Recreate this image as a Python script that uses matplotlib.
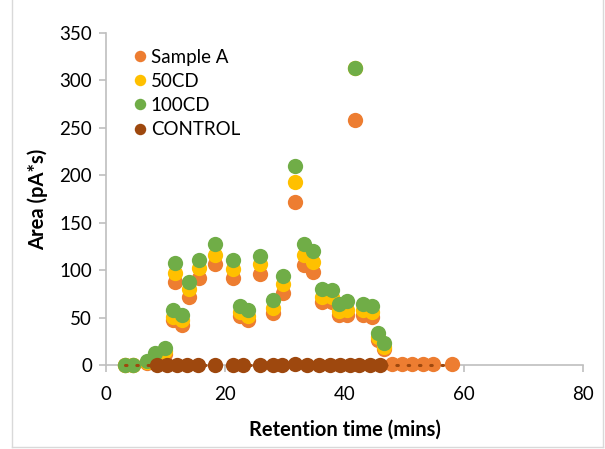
import matplotlib
matplotlib.use("Agg")
import matplotlib.pyplot as plt
from matplotlib.lines import Line2D

plt.rcParams['font.family'] = ['Lato', 'DejaVu Sans']

# Retention times (mins)
x = [3.2, 4.6, 6.9, 8.2, 9.9, 11.2, 11.6, 12.7, 13.9, 15.6, 18.3, 21.3, 22.4, 23.8,
     25.8, 28.0, 29.7, 31.7, 33.2, 34.8, 36.3, 37.9, 39.0, 40.5, 41.7, 43.1, 44.6,
     45.6, 46.7]
x_a_tail = [47.9, 49.6, 51.4, 53.1, 54.8, 58.0]

sample_a = [0, 0, 2, 8, 12, 47, 88, 42, 72, 92, 106, 92, 52, 47, 96, 55, 76, 172, 105,
            98, 66, 66, 53, 53, 258, 53, 51, 26, 17]
sample_a_tail = [1, 1, 1, 1, 1, 1]
cd50 = [0, 0, 3, 10, 15, 51, 97, 47, 80, 102, 116, 101, 56, 52, 106, 60, 85, 193, 116,
        109, 72, 72, 57, 58, 313, 58, 56, 30, 19]
cd100 = [0, 0, 4, 13, 18, 58, 107, 53, 88, 111, 128, 111, 62, 58, 115, 69, 94, 210, 128,
         120, 80, 79, 64, 67, 313, 64, 62, 34, 23]

x_control = [8.5, 10.2, 11.9, 13.6, 15.4, 18.3, 21.3, 23.0, 25.8, 28.0, 29.6, 31.7,
             33.7, 35.8, 37.5, 39.2, 40.9, 42.5, 44.2, 45.9]
control = [0, 0, 0, 0, 0, 0, 0, 0, 0, 0, 0, 1, 0, 0, 0, 0, 0, 0, 0, 0]

xticks = [0, 20, 40, 60, 80]
yticks = [0, 50, 100, 150, 200, 250, 300, 350]

fig = plt.figure(figsize=(6.05, 4.49), dpi=100)
ax = fig.add_axes([0.1752, 0.1871, 0.7884, 0.7394])

ms = 11.0
ax.plot(x + x_a_tail, sample_a + sample_a_tail, 'o', color='#ED7D31', ms=ms, mec='none',
        label='Sample A', zorder=3, clip_on=False)
ax.plot(x, cd50, 'o', color='#FFC000', ms=ms, mec='none', label='50CD', zorder=4, clip_on=False)
ax.plot(x, cd100, 'o', color='#70AD47', ms=ms, mec='none', label='100CD', zorder=5, clip_on=False)
ax.plot(x_control, control, 'o', color='#9E480E', ms=ms, mec='none', label='CONTROL',
        zorder=6, clip_on=False)
# dotted baseline (trendline)
ax.plot([min(x), max(x_a_tail)], [0, 0], color='#9E480E', lw=2.2, ls=(0, (0.5, 3.2)),
        dash_capstyle='round', zorder=7, clip_on=False)

ax.set_xlim(0, 80)
ax.set_ylim(0, 350)
ax.set_xticks(xticks)
ax.set_yticks(yticks)
ax.tick_params(axis='both', colors='#BFBFBF', labelcolor='black', labelsize=13.5,
               length=5, width=1.2, direction='out')
ax.tick_params(axis='x', pad=10)
ax.tick_params(axis='y', pad=5)
for s in ['top', 'right']:
    ax.spines[s].set_visible(False)
for s in ['left', 'bottom']:
    ax.spines[s].set_color('#BFBFBF')
    ax.spines[s].set_linewidth(1.2)
    ax.spines[s].set_zorder(1)

ax.set_xlabel('Retention time (mins)', fontsize=14.5, fontweight='bold', labelpad=12)
ax.set_ylabel('Area (pA*s)', fontsize=14.5, fontweight='bold', labelpad=8)

leg = ax.legend(loc='upper left', bbox_to_anchor=(0.035, 0.975), frameon=False,
                fontsize=13.5, handletextpad=0.1, labelspacing=0.38, markerscale=0.75,
                handlelength=1.0, borderaxespad=0)

# chart-area border
W, H = 605, 449
for (x0, y0, x1, y1) in [(12, 0, 12, 447), (603, 0, 603, 447), (12, 447, 603, 447)]:
    fig.add_artist(Line2D([x0 / W, x1 / W], [1 - y0 / H, 1 - y1 / H], color='#D9D9D9',
                          lw=1, transform=fig.transFigure))

fig.savefig('out.png', dpi=100)
